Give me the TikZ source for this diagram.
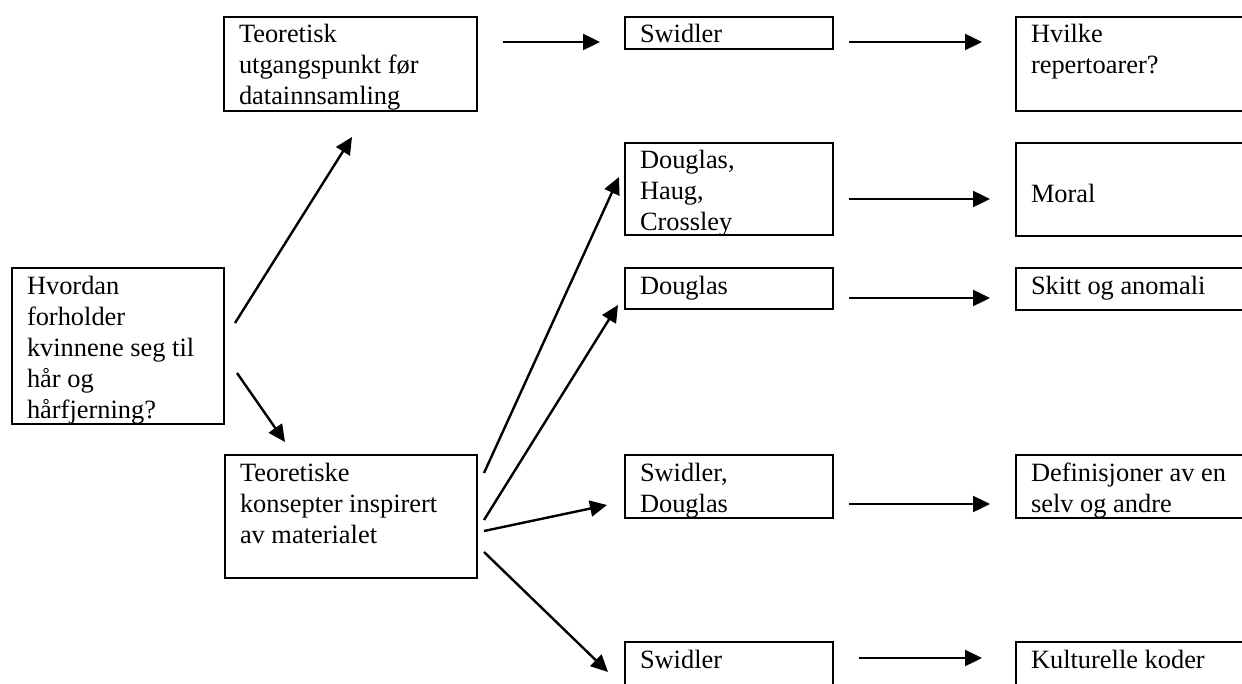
\documentclass[tikz,border=0pt]{standalone}
\usepackage{fontspec}
\setmainfont{Liberation Serif}
\usetikzlibrary{arrows.meta}
\newcommand{\boxtxt}[4][t]{\parbox[c][#3][#1]{#2}{\raggedright\leftskip=7.5pt\rule{0pt}{13pt}#4}}

\begin{document}
\begin{tikzpicture}[
x=0.5pt,
y=-0.5pt,
box/.style={
  draw,
  line width=1pt,
  inner sep=0pt,
  anchor=north west,
  font=\fontsize{13.2}{15.5}\selectfont
  },
link/.style={
  ->,
  line width=1.2pt
  },
>={Triangle[length=8.5pt,width=8pt]}
]
\useasboundingbox (0,0) rectangle (1242,684);
\clip (0,0) rectangle (1242,684);
\node[box] (hv) at (11,267) {\boxtxt{106pt}{78pt}{Hvordan\\forholder\\kvinnene seg til\\hår og\\hårfjerning?}};
\node[box] (tu) at (223,16) {\boxtxt{126.5pt}{47pt}{Teoretisk\\utgangspunkt før\\datainnsamling}};
\node[box] (tk) at (224,454) {\boxtxt{126pt}{61.5pt}{Teoretiske\\konsepter inspirert\\av materialet}};
\node[box] (s1) at (624,16) {\boxtxt{104pt}{16pt}{Swidler}};
\node[box] (dhc) at (624,142) {\boxtxt{104pt}{46pt}{Douglas,\\Haug,\\Crossley}};
\node[box] (dg) at (624,267) {\boxtxt{104pt}{20.5pt}{Douglas}};
\node[box] (sd) at (624,454) {\boxtxt{104pt}{31.5pt}{Swidler,\\Douglas}};
\node[box] (s2) at (624,641) {\boxtxt{104pt}{30pt}{Swidler}};
\node[box] (r1) at (1015,16) {\boxtxt{130pt}{47pt}{Hvilke\\repertoarer?}};
\node[box] (r2) at (1015,142) {\boxtxt[c]{130pt}{46.5pt}{Moral}};
\node[box] (r3) at (1015,267) {\boxtxt{130pt}{21pt}{Skitt og anomali}};
\node[box] (r4) at (1015,454) {\boxtxt{130pt}{31.5pt}{Definisjoner av en\\selv og andre}};
\node[box] (r5) at (1015,641) {\boxtxt{130pt}{30pt}{Kulturelle koder}};
\draw[link] ([shift={(10,56)}]hv.north east) -- ([shift={(129,25)}]tu.south west);
\draw[link] ([shift={(12,106)}]hv.north east) -- ([shift={(61,-12)}]tk.north west);
\foreach \a/\b/\sa/\sb/\dy in {tu/s1/25/-24/26, s1/r1/15/-33/26, dhc/r2/15/-25/57, dg/r3/15/-25/31, sd/r4/15/-25/50, s2/r5/25/-33/17}
  \draw[link] ([shift={(\sa,\dy)}]\a.north east) -- ([shift={(\sb,\dy)}]\b.north west);
\foreach \b/\sy/\tx/\ty in {dhc/19/-5/35, dg/66/-6/38, sd/77/-17/51, s2/98/-16/31}
  \draw[link] ([shift={(6,\sy)}]tk.north east) -- ([shift={(\tx,\ty)}]\b.north west);
\end{tikzpicture}
\end{document}
